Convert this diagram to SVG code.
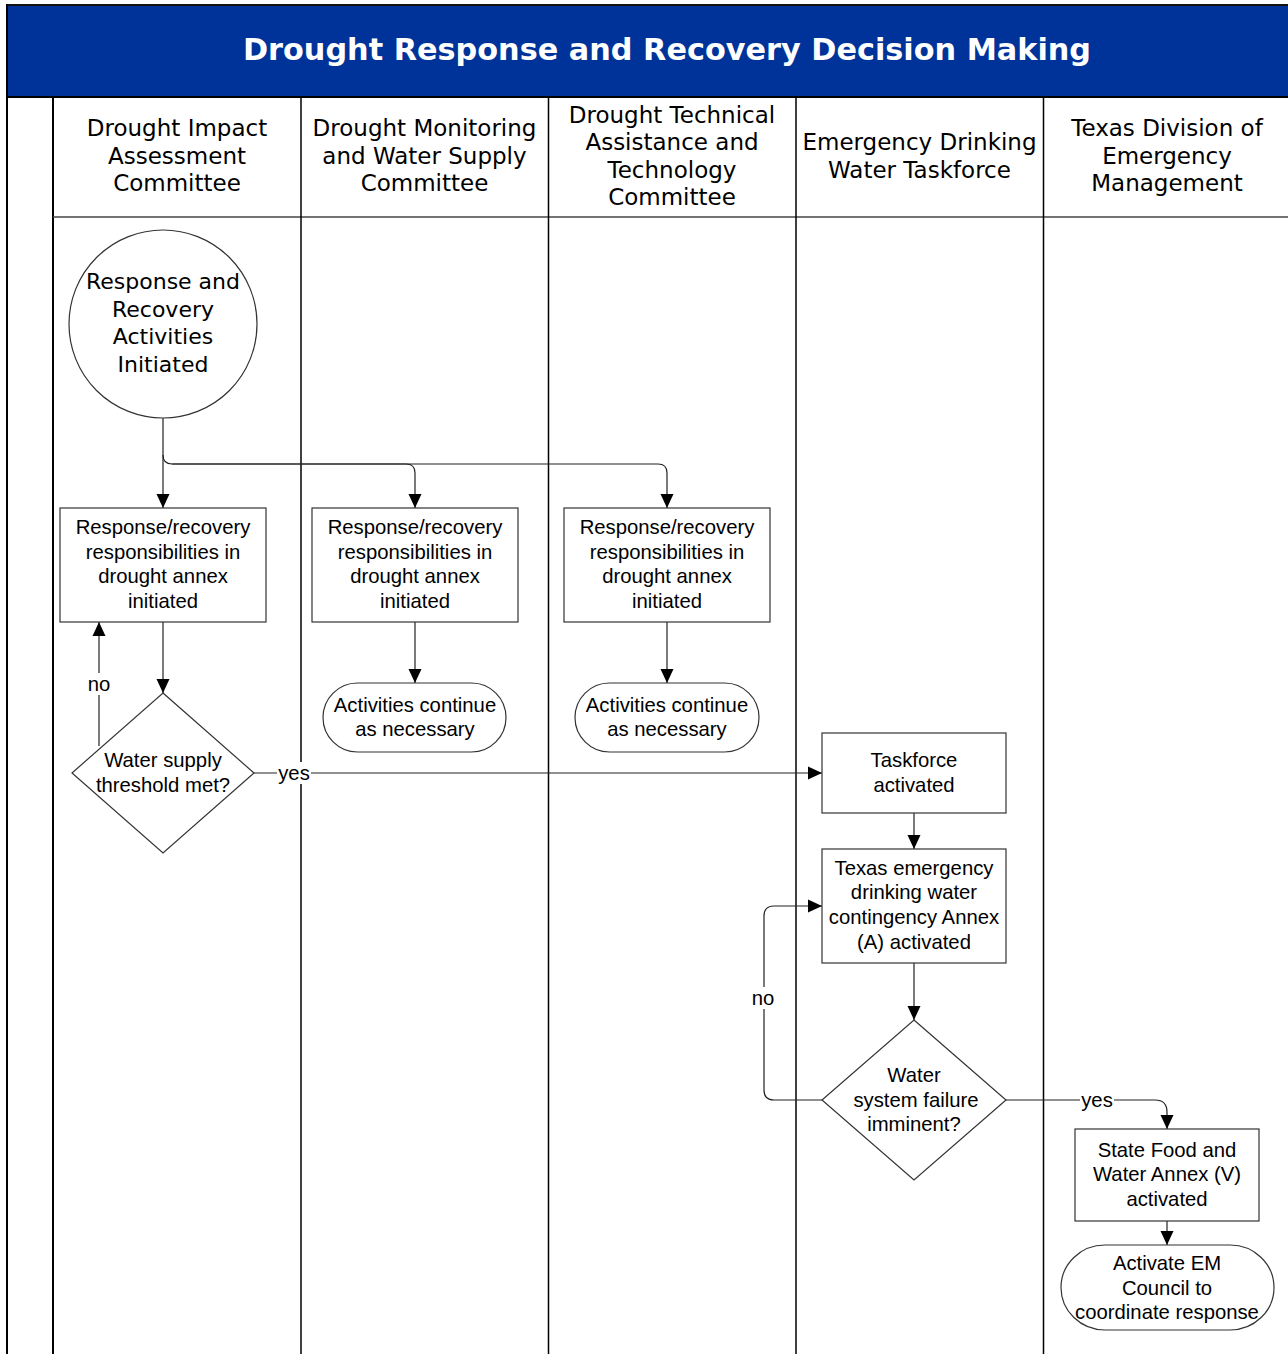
<svg xmlns="http://www.w3.org/2000/svg" width="1288" height="1354" viewBox="0 0 1288 1354">
<defs>
<marker id="arr" markerWidth="14" markerHeight="14" refX="14" refY="7" orient="auto" markerUnits="userSpaceOnUse">
<path d="M0,0.5 L14,7 L0,13.5 Z" fill="#000"/>
</marker>
<style>
.lane{stroke:#000;stroke-width:1.5;fill:none}
.hdr{font-family:"DejaVu Sans",Verdana,sans-serif;font-size:23px;fill:#000;text-anchor:middle}
.title{font-family:"DejaVu Sans",Verdana,sans-serif;font-size:30.3px;font-weight:bold;fill:#fff;text-anchor:middle}
.shape{fill:#fff;stroke:#333;stroke-width:1.2}
.t{font-family:"Liberation Sans",Arial,sans-serif;font-size:20.3px;fill:#000;text-anchor:middle}
.ct{font-family:"DejaVu Sans",Verdana,sans-serif;font-size:22px;fill:#000;text-anchor:middle}
.conn{fill:none;stroke:#222;stroke-width:1.2}
.lbl{font-family:"Liberation Sans",Arial,sans-serif;font-size:20.3px;fill:#000;text-anchor:middle}
.lblbg{fill:#fff}
</style>
</defs>
<rect x="0" y="0" width="1288" height="1354" fill="#fff"/>
<g id="pool">
<rect x="7" y="5" width="1290" height="92" fill="#003399"/>
<line x1="6" y1="5" x2="1288" y2="5" stroke="#111" stroke-width="2"/>
<text class="title" x="667" y="60">Drought Response and Recovery Decision Making</text>
<line x1="7" y1="4" x2="7" y2="1354" stroke="#000" stroke-width="2"/>
<line x1="7" y1="97" x2="1288" y2="97" stroke="#000" stroke-width="2"/>
<line x1="53" y1="97" x2="53" y2="1354" stroke="#000" stroke-width="2"/>
<line x1="53" y1="217" x2="1288" y2="217" stroke="#444" stroke-width="1.5"/>
<line class="lane" x1="301" y1="97" x2="301" y2="1354"/>
<line class="lane" x1="548.5" y1="97" x2="548.5" y2="1354"/>
<line class="lane" x1="796" y1="97" x2="796" y2="1354"/>
<line class="lane" x1="1043.5" y1="97" x2="1043.5" y2="1354"/>
</g>
<g id="lane-headers">
<text class="hdr" x="177" y="136">Drought Impact</text>
<text class="hdr" x="177" y="164">Assessment</text>
<text class="hdr" x="177" y="191">Committee</text>
<text class="hdr" x="424.5" y="136">Drought Monitoring</text>
<text class="hdr" x="424.5" y="164">and Water Supply</text>
<text class="hdr" x="424.5" y="191">Committee</text>
<text class="hdr" x="672" y="123">Drought Technical</text>
<text class="hdr" x="672" y="150">Assistance and</text>
<text class="hdr" x="672" y="178">Technology</text>
<text class="hdr" x="672" y="205">Committee</text>
<text class="hdr" x="919.5" y="150">Emergency Drinking</text>
<text class="hdr" x="919.5" y="178">Water Taskforce</text>
<text class="hdr" x="1167" y="136">Texas Division of</text>
<text class="hdr" x="1167" y="164">Emergency</text>
<text class="hdr" x="1167" y="191">Management</text>
</g>
<g id="connectors">
<path class="conn" d="M163,418 V455 Q163,464 172,464 H406 Q415,464 415,473 V508" marker-end="url(#arr)"/>
<path class="conn" d="M163,455 V508" marker-end="url(#arr)"/>
<path class="conn" d="M172,464 H658 Q667,464 667,473 V508" marker-end="url(#arr)"/>
<path class="conn" d="M163,622 V693" marker-end="url(#arr)"/>
<path class="conn" d="M99,746 V622" marker-end="url(#arr)"/>
<path class="conn" d="M415,622 V683" marker-end="url(#arr)"/>
<path class="conn" d="M667,622 V683" marker-end="url(#arr)"/>
<path class="conn" d="M254,773 H822" marker-end="url(#arr)"/>
<path class="conn" d="M914,813 V849" marker-end="url(#arr)"/>
<path class="conn" d="M914,963 V1020" marker-end="url(#arr)"/>
<path class="conn" d="M822,1100 H774 Q764,1100 764,1090 V916 Q764,906 774,906 H822" marker-end="url(#arr)"/>
<path class="conn" d="M1006,1100 H1155 Q1167,1100 1167,1112 V1129" marker-end="url(#arr)"/>
<path class="conn" d="M1167,1221 V1245" marker-end="url(#arr)"/>
<rect class="lblbg" x="87" y="673" width="24" height="22"/>
<text class="lbl" x="99" y="691">no</text>
<rect class="lblbg" x="277" y="762" width="34" height="22"/>
<text class="lbl" x="294" y="780">yes</text>
<rect class="lblbg" x="751" y="987" width="24" height="22"/>
<text class="lbl" x="763" y="1005">no</text>
<rect class="lblbg" x="1080" y="1089" width="34" height="22"/>
<text class="lbl" x="1097" y="1107">yes</text>
</g>
<g id="start">
<circle class="shape" cx="163" cy="324" r="94"/>
<text class="ct" x="163" y="289">Response and</text>
<text class="ct" x="163" y="317">Recovery</text>
<text class="ct" x="163" y="344">Activities</text>
<text class="ct" x="163" y="372">Initiated</text>
</g>
<g id="box-impact">
<rect class="shape" x="60" y="508" width="206" height="114"/>
<text class="t" x="163" y="534">Response/recovery</text>
<text class="t" x="163" y="559">responsibilities in</text>
<text class="t" x="163" y="583">drought annex</text>
<text class="t" x="163" y="608">initiated</text>
</g>
<g id="box-monitoring">
<rect class="shape" x="312" y="508" width="206" height="114"/>
<text class="t" x="415" y="534">Response/recovery</text>
<text class="t" x="415" y="559">responsibilities in</text>
<text class="t" x="415" y="583">drought annex</text>
<text class="t" x="415" y="608">initiated</text>
</g>
<g id="box-technical">
<rect class="shape" x="564" y="508" width="206" height="114"/>
<text class="t" x="667" y="534">Response/recovery</text>
<text class="t" x="667" y="559">responsibilities in</text>
<text class="t" x="667" y="583">drought annex</text>
<text class="t" x="667" y="608">initiated</text>
</g>
<g id="end-monitoring">
<rect class="shape" x="323" y="683" width="183" height="69" rx="34.5" ry="34.5"/>
<text class="t" x="415" y="712">Activities continue</text>
<text class="t" x="415" y="736">as necessary</text>
</g>
<g id="end-technical">
<rect class="shape" x="575" y="683" width="184" height="69" rx="34.5" ry="34.5"/>
<text class="t" x="667" y="712">Activities continue</text>
<text class="t" x="667" y="736">as necessary</text>
</g>
<g id="decision-threshold">
<polygon class="shape" points="163,693 254,773 163,853 72,773"/>
<text class="t" x="163" y="767">Water supply</text>
<text class="t" x="163" y="792">threshold met?</text>
</g>
<g id="box-taskforce">
<rect class="shape" x="822" y="733" width="184" height="80"/>
<text class="t" x="914" y="767">Taskforce</text>
<text class="t" x="914" y="792">activated</text>
</g>
<g id="box-annex-a">
<rect class="shape" x="822" y="849" width="184" height="114"/>
<text class="t" x="914" y="875">Texas emergency</text>
<text class="t" x="914" y="899">drinking water</text>
<text class="t" x="914" y="924">contingency Annex</text>
<text class="t" x="914" y="949">(A) activated</text>
</g>
<g id="decision-failure">
<polygon class="shape" points="914,1020 1006,1100 914,1180 822,1100"/>
<text class="t" x="914" y="1082">Water</text>
<text class="t" x="916" y="1107">system failure</text>
<text class="t" x="914" y="1131">imminent?</text>
</g>
<g id="box-annex-v">
<rect class="shape" x="1075" y="1129" width="184" height="92"/>
<text class="t" x="1167" y="1157">State Food and</text>
<text class="t" x="1167" y="1181">Water Annex (V)</text>
<text class="t" x="1167" y="1206">activated</text>
</g>
<g id="end-em-council">
<rect class="shape" x="1061" y="1245" width="213" height="85" rx="44" ry="42.5"/>
<text class="t" x="1167" y="1270">Activate EM</text>
<text class="t" x="1167" y="1295">Council to</text>
<text class="t" x="1167" y="1319">coordinate response</text>
</g>
</svg>
